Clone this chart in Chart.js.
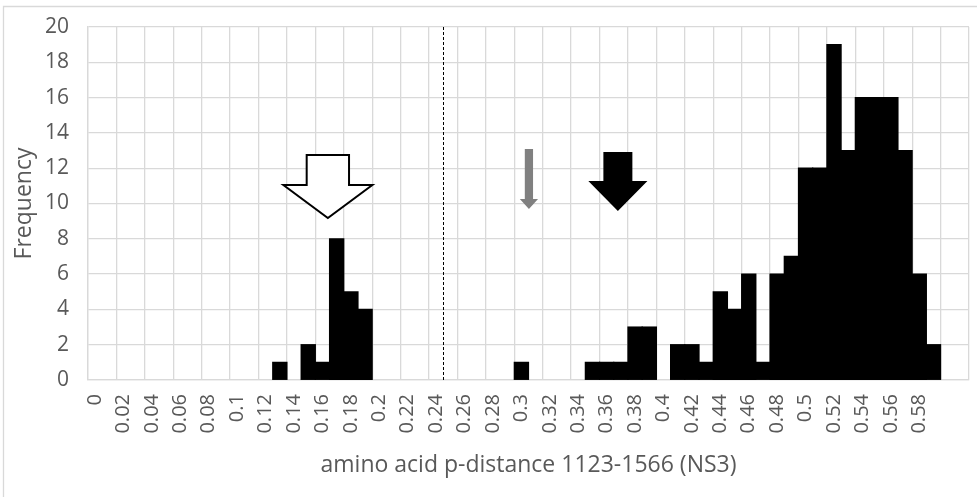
<!DOCTYPE html>
<html><head><meta charset="utf-8">
<script src="https://cdn.jsdelivr.net/npm/chart.js@4/dist/chart.umd.min.js"></script>
<style>html,body{margin:0;padding:0;background:#fff;}#wrap{width:977px;height:497px;position:relative;}</style>
</head><body><div id="wrap"><canvas id="c" width="977" height="497"></canvas></div>
<script>
// Histogram bins (amino acid p-distance, bin width 0.01)
const bins = ["0","0.01","0.02","0.03","0.04","0.05","0.06","0.07","0.08","0.09",
  "0.1","0.11","0.12","0.13","0.14","0.15","0.16","0.17","0.18","0.19",
  "0.2","0.21","0.22","0.23","0.24","0.25","0.26","0.27","0.28","0.29",
  "0.3","0.31","0.32","0.33","0.34","0.35","0.36","0.37","0.38","0.39",
  "0.4","0.41","0.42","0.43","0.44","0.45","0.46","0.47","0.48","0.49",
  "0.5","0.51","0.52","0.53","0.54","0.55","0.56","0.57","0.58","0.59",
  "0.6","0.61"];
// Frequency per bin
const frequencies = [0,0,0,0,0,0,0,0,0,0, 0,0,0,1,0,2,1,8,5,4,
  0,0,0,0,0,0,0,0,0,0, 1,0,0,0,0,1,1,1,3,3,
  0,2,2,1,5,4,6,1,6,7, 12,12,19,13,16,16,16,13,6,2,
  0,0];
// Displayed x tick labels (every second bin)
const tickLabels = ["0","","0.02","","0.04","","0.06","","0.08","",
  "0.1","","0.12","","0.14","","0.16","","0.18","",
  "0.2","","0.22","","0.24","","0.26","","0.28","",
  "0.3","","0.32","","0.34","","0.36","","0.38","",
  "0.4","","0.42","","0.44","","0.46","","0.48","",
  "0.5","","0.52","","0.54","","0.56","","0.58","",
  "",""];
const yMin = 0, yMax = 20, yStep = 2;
const xTitle = "amino acid p-distance 1123-1566 (NS3)";
const yTitle = "Frequency";
// Threshold (dashed line) as bin boundary index
const thresholdBoundary = 25;
// Annotation arrows, in bin units (x) and frequency units (y)
const arrows = [
  {cx: 16.88, shaftHalf: 1.49, headHalf: 3.13, top: 12.75, neck: 11.05, tip: 9.18, fill: '#ffffff', stroke: '#000000'},
  {cx: 31.03, shaftHalf: 0.29, headHalf: 0.64, top: 13.09, neck: 10.25, tip: 9.69, fill: '#808080', stroke: null},
  {cx: 37.29, shaftHalf: 1.02, headHalf: 2.08, top: 12.92, neck: 11.27, tip: 9.57, fill: '#000000', stroke: null}
];

const GRID = '#d9d9d9';
const TEXT = '#595959';
const FONT = "'Open Sans', 'Liberation Sans', sans-serif";

function binPx(xs, c) {
  const p0 = xs.getPixelForValue(0), p1 = xs.getPixelForValue(1);
  return p0 + (c - 0.5) * (p1 - p0);
}

const decor = {
  id: 'decor',
  beforeDraw(chart) {
    const ctx = chart.ctx;
    ctx.save();
    ctx.fillStyle = '#fff';
    ctx.fillRect(0, 0, chart.width, chart.height);
    ctx.strokeStyle = GRID;
    ctx.lineWidth = 1.3;
    ctx.beginPath();
    ctx.moveTo(3.5, chart.height);
    ctx.lineTo(3.5, 6.5);
    ctx.lineTo(chart.width, 6.5);
    ctx.stroke();
    ctx.restore();
  },
  afterDatasetsDraw(chart) {
    const ctx = chart.ctx, xs = chart.scales.x, ys = chart.scales.y;
    const area = chart.chartArea;
    ctx.save();
    // dashed threshold line
    const dx = Math.round(binPx(xs, thresholdBoundary)) + 0.5;
    ctx.strokeStyle = '#000';
    ctx.lineWidth = 1;
    ctx.setLineDash([3, 2]);
    ctx.beginPath();
    ctx.moveTo(dx, area.top);
    ctx.lineTo(dx, area.bottom);
    ctx.stroke();
    ctx.setLineDash([]);
    // arrows
    arrows.forEach(a => {
      const cx = binPx(xs, a.cx);
      const sl = binPx(xs, a.cx - a.shaftHalf), sr = binPx(xs, a.cx + a.shaftHalf);
      const hl = binPx(xs, a.cx - a.headHalf), hr = binPx(xs, a.cx + a.headHalf);
      const yt = ys.getPixelForValue(a.top), yn = ys.getPixelForValue(a.neck), yp = ys.getPixelForValue(a.tip);
      ctx.beginPath();
      ctx.moveTo(sl, yt);
      ctx.lineTo(sr, yt);
      ctx.lineTo(sr, yn);
      ctx.lineTo(hr, yn);
      ctx.lineTo(cx, yp);
      ctx.lineTo(hl, yn);
      ctx.lineTo(sl, yn);
      ctx.closePath();
      ctx.fillStyle = a.fill;
      ctx.fill();
      if (a.stroke) {
        ctx.strokeStyle = a.stroke;
        ctx.lineWidth = 2;
        ctx.lineJoin = 'miter';
        ctx.stroke();
      }
    });
    ctx.restore();
  }
};

new Chart(document.getElementById('c'), {
  type: 'bar',
  data: {
    labels: bins,
    datasets: [{
      data: frequencies,
      backgroundColor: ctx => (ctx.raw === 0 ? 'rgba(0,0,0,0)' : '#000000'),
      borderWidth: 0,
      inflateAmount: 0.6,
      categoryPercentage: 1.0,
      barPercentage: 1.0
    }]
  },
  options: {
    responsive: false,
    animation: false,
    devicePixelRatio: 1,
    layout: {padding: {left: 0, right: 8, top: 27, bottom: 0}},
    plugins: {legend: {display: false}, tooltip: {enabled: false}},
    scales: {
      x: {
        offset: true,
        grid: {
          offset: true,
          drawTicks: false,
          lineWidth: 1.3,
          color: c => (c.index === undefined || c.index % 2 === 0) ? GRID : 'rgba(0,0,0,0)'
        },
        border: {color: GRID, width: 1.3},
        ticks: {
          autoSkip: false,
          minRotation: 90,
          maxRotation: 90,
          padding: 14,
          color: TEXT,
          font: {family: FONT, size: 20},
          callback: (v, i) => tickLabels[i]
        },
        title: {display: true, text: xTitle, color: TEXT, font: {family: FONT, size: 23}, padding: {top: 0, bottom: 18}},
        afterFit: s => { s.height = 117; s.paddingLeft = 0; s.paddingRight = 0; }
      },
      y: {
        min: yMin, max: yMax,
        grid: {drawTicks: false, color: GRID, lineWidth: 1.3},
        border: {color: GRID, width: 1.3},
        ticks: {stepSize: yStep, padding: 19, color: TEXT, font: {family: FONT, size: 21}},
        title: {display: true, text: yTitle, color: TEXT, font: {family: FONT, size: 23}, padding: {top: 11, bottom: 0}},
        afterFit: s => { s.width = 88; s.paddingTop = 0; s.paddingBottom = 0; }
      }
    }
  },
  plugins: [decor]
});
</script>
</body></html>
